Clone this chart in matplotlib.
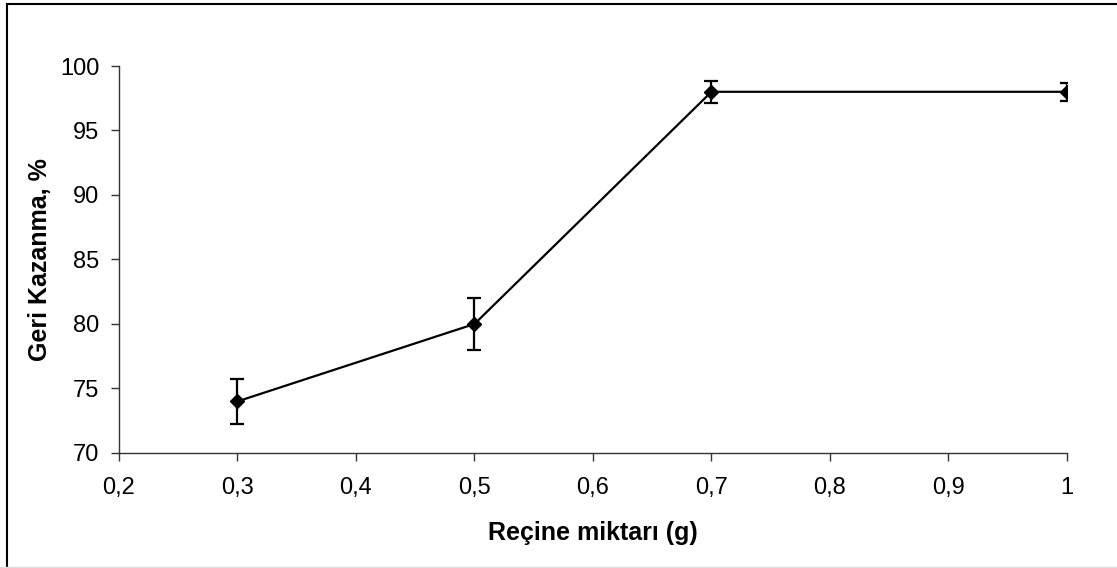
import matplotlib
matplotlib.use('Agg')
import matplotlib.pyplot as plt
from matplotlib.lines import Line2D
from matplotlib.ticker import FuncFormatter, MultipleLocator

# veri
recine = [0.3, 0.5, 0.7, 1.0]
geri_kazanma = [74.0, 80.0, 98.0, 98.0]
hata = [1.75, 2.0, 0.85, 0.7]

x_label = 'Reçine miktarı (g)'
y_label = 'Geri Kazanma, %'

plt.rcParams['font.family'] = ['Liberation Sans', 'DejaVu Sans']

fig = plt.figure(figsize=(11.17, 5.68), dpi=100)
ax = fig.add_axes([0.1065, 0.2025, 0.8487, 0.6813])

ax.errorbar(recine, geri_kazanma, yerr=hata, color='black', lw=1.6,
            marker='D', markersize=7.5, capsize=5, elinewidth=1.6, capthick=1.6)

ax.set_xlim(0.2, 1.0)
ax.set_ylim(70, 100)
ax.xaxis.set_major_locator(MultipleLocator(0.1))
ax.yaxis.set_major_locator(MultipleLocator(5))
ax.xaxis.set_major_formatter(FuncFormatter(lambda v, p: ('%g' % round(v, 1)).replace('.', ',')))

for side in ['top', 'right']:
    ax.spines[side].set_visible(False)
for side in ['left', 'bottom']:
    ax.spines[side].set_color('#333333')
    ax.spines[side].set_linewidth(1.0)

ax.tick_params(axis='both', direction='out', length=5.5, width=1, color='#333333',
               labelsize=17)
ax.tick_params(axis='x', pad=11.5)
ax.tick_params(axis='y', pad=8.5)

ax.set_xlabel(x_label, fontsize=18, fontweight='bold', labelpad=16)
ax.set_ylabel(y_label, fontsize=18, fontweight='bold', labelpad=6)

# cerceve
fig.add_artist(Line2D([7 / 1117, 7 / 1117], [0, 1 - 4 / 568], transform=fig.transFigure,
                      color='black', lw=1.5))
fig.add_artist(Line2D([7 / 1117, 1], [1 - 4 / 568, 1 - 4 / 568], transform=fig.transFigure,
                      color='black', lw=1.5))
fig.add_artist(Line2D([0, 1], [1 - 567 / 568, 1 - 567 / 568], transform=fig.transFigure,
                      color='#dddddd', lw=1))

fig.savefig('out.png', dpi=100)
